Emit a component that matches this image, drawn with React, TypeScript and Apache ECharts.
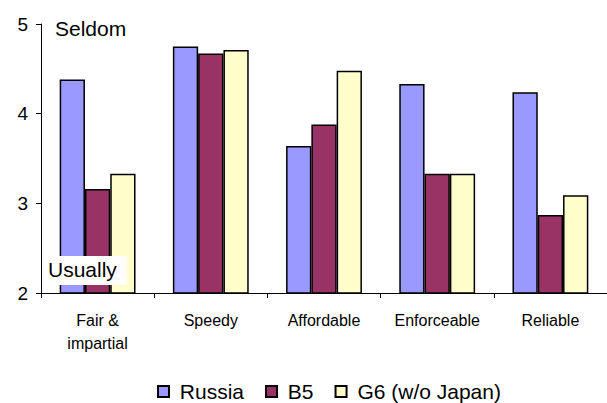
import React, { useEffect, useRef } from "react";
import * as echarts from "echarts";

const categories = ["Fair &\nimpartial", "Speedy", "Affordable", "Enforceable", "Reliable"];
const russia = [4.38, 4.75, 3.64, 4.33, 4.24];
const b5 = [3.16, 4.67, 3.88, 3.33, 2.87];
const g6 = [3.33, 4.71, 4.48, 3.33, 3.09];
const yTicks = { min: 2, max: 5, interval: 1 };

const FONT = "Liberation Sans, Arial, sans-serif";

export default function App() {
  const ref = useRef<HTMLDivElement>(null);

  useEffect(() => {
    if (!ref.current) return;
    const chart = echarts.init(ref.current, null, { renderer: "svg" });
    const barStyle = (color: string) => ({
      color,
      borderColor: "#000",
      borderWidth: 1.5,
    });
    chart.setOption({
      animation: false,
      backgroundColor: "#fff",
      textStyle: { fontFamily: FONT, color: "#000" },
      grid: { left: 41, top: 24, width: 573, height: 269, containLabel: false },
      xAxis: {
        type: "category",
        data: categories,
        axisLine: { lineStyle: { color: "#000", width: 1 } },
        axisTick: { show: true, length: 5, lineStyle: { color: "#000" } },
        axisLabel: {
          color: "#000",
          fontSize: 16,
          lineHeight: 23,
          margin: 16,
          fontFamily: FONT,
          interval: 0,
        },
        splitLine: { show: false },
      },
      yAxis: {
        type: "value",
        min: yTicks.min,
        max: yTicks.max,
        interval: yTicks.interval,
        axisLine: { show: true, lineStyle: { color: "#000", width: 1 } },
        axisTick: { show: true, length: 5, lineStyle: { color: "#000" } },
        axisLabel: { color: "#000", fontSize: 19, margin: 13, fontFamily: FONT },
        splitLine: { show: false },
      },
      legend: {
        top: 376,
        left: 152,
        itemWidth: 11,
        itemHeight: 11,
        itemGap: 21,
        icon: "rect",
        formatter: (name: string) => " " + name,
        textStyle: { fontSize: 21, color: "#000", fontFamily: FONT },
        data: ["Russia", "B5", "G6 (w/o Japan)"],
      },
      series: [
        {
          name: "Russia",
          type: "bar",
          data: russia,
          barGap: "0%",
          barCategoryGap: "33%",
          itemStyle: barStyle("#9999FF"),
        },
        {
          name: "B5",
          type: "bar",
          data: b5,
          barGap: "0%",
          barCategoryGap: "33%",
          itemStyle: barStyle("#993366"),
        },
        {
          name: "G6 (w/o Japan)",
          type: "bar",
          data: g6,
          barGap: "0%",
          barCategoryGap: "33%",
          itemStyle: barStyle("#FFFFCC"),
        },
      ],
      graphic: [
        {
          type: "text",
          left: 55,
          top: 18,
          z: 100,
          style: { text: "Seldom", fontSize: 21, fill: "#000", fontFamily: FONT },
        },
        {
          type: "rect",
          shape: { x: 45, y: 256, width: 82, height: 29 },
          z: 100,
          style: { fill: "#fff" },
        },
        {
          type: "text",
          left: 48,
          top: 259,
          z: 101,
          style: { text: "Usually", fontSize: 21, fill: "#000", fontFamily: FONT },
        },
      ],
    });
    return () => chart.dispose();
  }, []);

  return <div ref={ref} style={{ width: 607, height: 403, position: "absolute", left: 0, top: 0 }} />;
}
